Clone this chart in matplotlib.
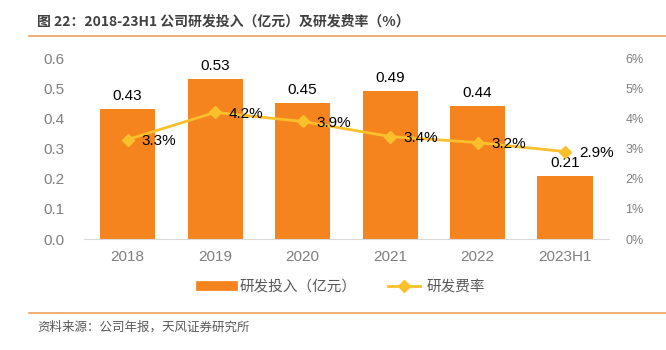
import numpy as np
import matplotlib
matplotlib.use("Agg")
import matplotlib.pyplot as plt
from matplotlib.lines import Line2D

plt.rcParams['font.family'] = ['Liberation Sans', 'Noto Sans CJK SC', 'DejaVu Sans']

categories = ["2018", "2019", "2020", "2021", "2022", "2023H1"]
rd_invest = [0.43, 0.53, 0.45, 0.49, 0.44, 0.21]
rd_rate = [3.3, 4.2, 3.9, 3.4, 3.2, 2.9]
left_ticks = [0.0, 0.1, 0.2, 0.3, 0.4, 0.5, 0.6]
right_ticks = [0, 1, 2, 3, 4, 5, 6]

bar_color = "#F5841F"
line_color = "#FAC02C"
tick_color = "#7F7F7F"

fig = plt.figure(figsize=(6.66, 3.5), dpi=100)
ax = fig.add_axes([0.126, 0.317, 0.788, 0.517])
x = np.arange(len(categories))
ax.bar(x, rd_invest, width=0.63, color=bar_color, zorder=2)
for xi, v in zip(x, rd_invest):
    ax.text(xi, v + 0.02, f"{v:.2f}", ha="center", va="bottom", fontsize=11, color="black")
ax.set_xlim(-0.5, len(categories) - 0.5)
ax.set_ylim(0, 0.6)
ax.set_yticks(left_ticks)
ax.set_yticklabels([f"{t:.1f}" for t in left_ticks])
ax.set_xticks(x)
ax.set_xticklabels(categories)
ax.tick_params(axis="both", length=0, colors=tick_color, labelsize=11)
ax.tick_params(axis="y", pad=14)
ax.tick_params(axis="x", pad=8)
for s in ["top", "right", "left"]:
    ax.spines[s].set_visible(False)
ax.spines["bottom"].set_color("#D9D9D9")

ax2 = ax.twinx()
ax2.plot(x, rd_rate, color=line_color, lw=2, marker="D", ms=6, zorder=3)
for xi, v in zip(x, rd_rate):
    ax2.annotate(f"{v:.1f}%", (xi, v), xytext=(10, -1), textcoords="offset points",
                 ha="left", va="center", fontsize=11, color="black")
ax2.set_ylim(0, 6)
ax2.set_yticks(right_ticks)
ax2.set_yticklabels([f"{t}%" for t in right_ticks])
ax2.tick_params(axis="y", length=0, colors=tick_color, labelsize=9, pad=12)
for s in ax2.spines.values():
    s.set_visible(False)

handles = [
    Line2D([], [], color=bar_color, lw=7),
    Line2D([], [], color=line_color, lw=2, marker="D", ms=6),
]
fig.legend(handles, ["研发投入（亿元）", "研发费率"], loc="center", bbox_to_anchor=(0.515, 0.18),
           ncol=2, frameon=False, fontsize=10.5, labelcolor="#595959", handlelength=2.2,
           columnspacing=2.2, handletextpad=0.4)

fig.text(0.056, 0.937, "图 22：2018-23H1 公司研发投入（亿元）及研发费率（%）", fontsize=10,
         fontweight="bold", color="#404040", va="center",
         family=['Noto Sans CJK SC', 'DejaVu Sans'])
fig.add_artist(Line2D([0.043, 1.0], [0.897, 0.897], color="#F0A060", lw=1.2))
fig.add_artist(Line2D([0.043, 1.0], [0.106, 0.106], color="#F0A060", lw=1.2))
fig.text(0.056, 0.066, "资料来源：公司年报，天风证券研究所", fontsize=9, color="#595959", va="center",
         family=['Noto Sans CJK SC', 'DejaVu Sans'])

fig.savefig("out.png", dpi=100)
